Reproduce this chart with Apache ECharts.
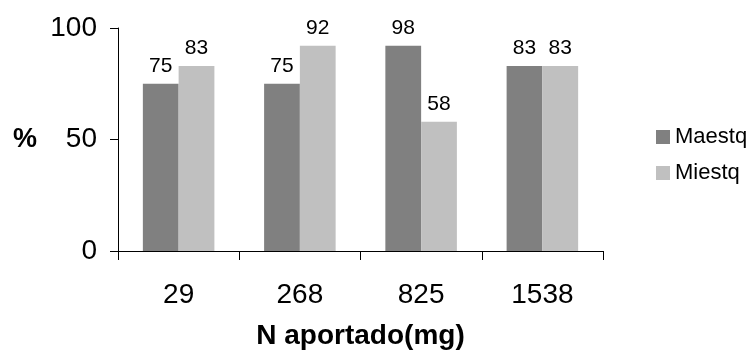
<!DOCTYPE html>
<html>
<head>
<meta charset="utf-8">
<script src="https://cdn.jsdelivr.net/npm/echarts@6/dist/echarts.min.js"></script>
<style>
  html, body { margin: 0; padding: 0; background: #fff; }
  #chart { width: 755px; height: 350px; }
</style>
</head>
<body>
<div id="chart"></div>
<script>
var categories = ['29', '268', '825', '1538']
var maestq = [75, 75, 92, 83]
var miestq = [83, 92, 58, 83]
// labels printed above the bars (the 825 one reads 98 in the original)
var maestqLabels = ['75', '75', '98', '83']
var miestqLabels = ['83', '92', '58', '83']
var yTicks = [0, 50, 100]

var font = '"Liberation Sans", Arial, sans-serif'

var chart = echarts.init(document.getElementById('chart'))
var option = {
  animation: false,
  backgroundColor: '#fff',
  textStyle: { fontFamily: font },
  color: ['#808080', '#C0C0C0'],
  grid: { left: 118, right: 152, top: 28, bottom: 99, outerBoundsMode: 'none' },
  legend: {
    orient: 'vertical',
    left: 656,
    top: 126,
    padding: 0,
    itemWidth: 14,
    itemHeight: 14,
    itemGap: 14,
    icon: 'rect',
    textStyle: { fontSize: 22, color: '#000', fontFamily: font },
    data: ['Maestq', 'Miestq']
  },
  xAxis: {
    type: 'category',
    data: categories,
    name: 'N aportado(mg)',
    nameLocation: 'middle',
    nameGap: 71,
    nameTextStyle: { fontSize: 28, fontWeight: 'bold', color: '#000', fontFamily: font },
    axisLine: { lineStyle: { color: '#000', width: 1 } },
    axisTick: { show: true, length: 9, lineStyle: { color: '#000' } },
    axisLabel: { fontSize: 28, color: '#000', margin: 30, fontFamily: font }
  },
  yAxis: {
    type: 'value',
    min: yTicks[0],
    max: yTicks[yTicks.length - 1],
    interval: 50,
    name: '%',
    nameLocation: 'middle',
    nameRotate: 0,
    nameGap: 81,
    nameTextStyle: { fontSize: 27, fontWeight: 'bold', color: '#000', fontFamily: font },
    splitLine: { show: false },
    axisLine: { show: true, lineStyle: { color: '#000', width: 1 } },
    axisTick: { show: true, length: 8, lineStyle: { color: '#000' } },
    axisLabel: { fontSize: 28, color: '#000', margin: 21, fontFamily: font }
  },
  series: [
    {
      name: 'Maestq',
      type: 'bar',
      data: maestq,
      barGap: '0%',
      barCategoryGap: '41%',
      label: {
        show: true,
        position: 'top',
        distance: 7,
        fontSize: 21,
        color: '#000',
        fontFamily: font,
        formatter: function (p) { return maestqLabels[p.dataIndex] }
      }
    },
    {
      name: 'Miestq',
      type: 'bar',
      data: miestq,
      barGap: '0%',
      barCategoryGap: '41%',
      label: {
        show: true,
        position: 'top',
        distance: 7,
        fontSize: 21,
        color: '#000',
        fontFamily: font,
        formatter: function (p) { return miestqLabels[p.dataIndex] }
      }
    }
  ]
}
chart.setOption(option)
</script>
</body>
</html>
